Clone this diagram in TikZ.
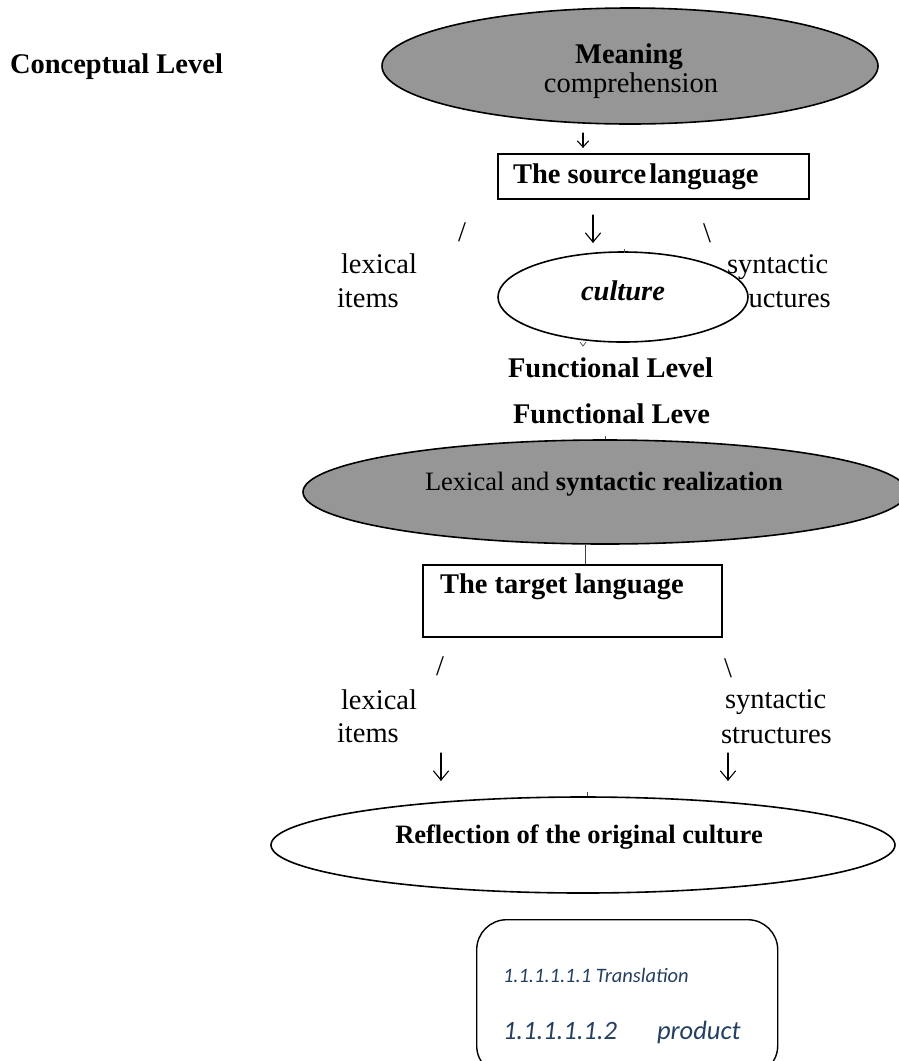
\documentclass[tikz,border=0pt]{standalone}
\usepackage{fontspec}
\setmainfont{Liberation Serif}
\newfontfamily\carl{Carlito}
\usetikzlibrary{shapes.geometric}
\definecolor{fillgray}{RGB}{150,150,150}
\definecolor{navy}{RGB}{36,63,96}
\tikzset{
  txt/.style={inner sep=0pt, outer sep=0pt},
  bigtxt/.style={txt, font=\fontsize{28.5}{34}\selectfont},
  midtxt/.style={txt, font=\fontsize{26.5}{32}\selectfont},
  grayell/.style={ellipse, draw=black, line width=1.6pt, fill=fillgray, inner sep=0pt},
  whiteell/.style={ellipse, draw=black, line width=1.6pt, fill=white, inner sep=0pt},
  langbox/.style={rectangle, draw=black, line width=2.2pt, inner sep=0pt},
  tick/.style={draw=black!70, line width=0.8pt},
  glyarrow/.style={draw=black, line width=1.1pt, line cap=round, line join=miter},
}
% down-arrow glyph: #1 = x, #2 = top y, #3 = bottom y, #4 = half width of head, #5 = head length
\newcommand{\dnarrow}[5]{%
  \draw[glyarrow] (#1,#2) -- (#1,#3);
  \draw[glyarrow] (#1-#4,#3-#5) -- (#1,#3) -- (#1+#4,#3-#5);}
\begin{document}
\begin{tikzpicture}[x=1pt,y=-1pt]
\useasboundingbox (0,0) rectangle (898,1061);

% Conceptual level label
\node[bigtxt, anchor=base west] (concept) at (10,73) {\bfseries Conceptual Level};

% Top ellipse
\node[grayell, minimum width=496pt, minimum height=116pt] (meaning) at (630,66) {};
\node[bigtxt, anchor=base] (meaningtxt) at (629,63) {\bfseries Meaning};
\node[bigtxt, anchor=base] (comptxt) at (631,92) {comprehension};

% small arrow glyph
\dnarrow{583}{133}{147}{5.5}{6}

% source language box
\node[langbox, minimum width=311pt, minimum height=45pt] (source) at (653.5,176.5) {};
\node[bigtxt, anchor=base west] (sourcetxt) at (513,183) {\bfseries The source\hspace{3pt}language};

% branches under source
\node[bigtxt] (sl1) at (462,232) {/};
\dnarrow{593}{215}{242}{7.5}{9}
\node[bigtxt] (sl2) at (707,233) {\textbackslash};

\node[bigtxt, anchor=base west] (lex1) at (341,273) {lexical};
\node[bigtxt, anchor=base west] (items1) at (337,307) {items};
\node[bigtxt, anchor=base west] (syn1) at (727,273) {syntactic};
\node[bigtxt, anchor=base west] (str1) at (720,307) {structures};

% culture ellipse (drawn over "structures")
\node[whiteell, minimum width=250pt, minimum height=90pt] (culture) at (623,297) {};
\node[bigtxt, anchor=base] (culturetxt) at (623,300) {\bfseries\itshape culture};
\draw[tick] (624,249) -- (624,253);
\draw[black!70, line width=0.7pt] (580,342) -- (583,346) -- (586,342);

% functional level labels
\node[bigtxt, anchor=base west] (func1) at (508,377) {\bfseries Functional Level};
\node[bigtxt, anchor=base west] (func2) at (513,423) {\bfseries Functional Leve};

% gray realization ellipse
\draw[tick] (605,436) -- (605,441);
\node[grayell, minimum width=604pt, minimum height=104pt] (real) at (605,492) {};
\node[midtxt, anchor=base west] (realtxt) at (425,490) {Lexical and \bfseries syntactic realization};

% target language box
\node[langbox, minimum width=299pt, minimum height=72pt] (target) at (572.5,601) {};
\node[bigtxt, anchor=base west] (targettxt) at (440,593) {\bfseries The target language};
\draw[black!75, line width=1pt] (real.south -| 585,0) -- (target.north -| 585,0);

% branches under target
\node[bigtxt] (sl3) at (440,666) {/};
\node[bigtxt] (sl4) at (728,668) {\textbackslash};
\node[bigtxt, anchor=base west] (lex2) at (341,709) {lexical};
\node[bigtxt, anchor=base west] (items2) at (337,742) {items};
\node[bigtxt, anchor=base west] (syn2) at (725,708) {syntactic};
\node[bigtxt, anchor=base west] (str2) at (721,743) {structures};
\dnarrow{441}{753}{780}{7.5}{9}
\dnarrow{728}{753}{780}{7.5}{9}

% reflection ellipse
\draw[tick] (587,792) -- (587,797);
\node[whiteell, minimum width=624pt, minimum height=96pt] (refl) at (583,845) {};
\node[midtxt, anchor=base] (refltxt) at (579,843) {\bfseries Reflection of the original culture};

% product box
\node[rectangle, draw=black, line width=1.4pt, rounded corners=30pt, minimum width=301pt, minimum height=156pt, anchor=north west, inner sep=0pt] (prod) at (476,919) {};
\node[txt, anchor=base west, text=navy, font=\carl\itshape\fontsize{20.5}{24}\selectfont] (trans) at (503,982) {1.1.1.1.1.1 Translation};
\node[txt, anchor=base west, text=navy, font=\carl\itshape\fontsize{26.5}{30}\selectfont] (numtwo) at (503,1039) {1.1.1.1.1.2};
\node[txt, anchor=base west, text=navy, font=\carl\itshape\fontsize{26.5}{30}\selectfont] (product) at (657,1039) {product};
\end{tikzpicture}
\end{document}
